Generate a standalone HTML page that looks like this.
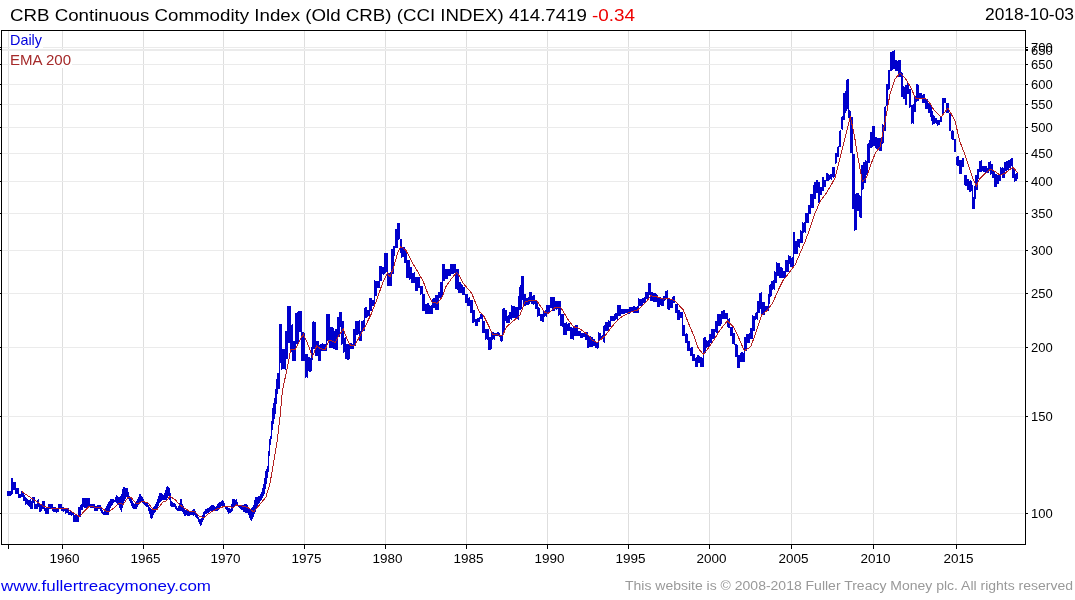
<!DOCTYPE html>
<html><head><meta charset="utf-8"><title>CRB</title><style>html,body{margin:0;padding:0;background:#fff;width:1075px;height:600px;overflow:hidden}</style></head><body>
<svg width="1075" height="600" viewBox="0 0 1075 600" style="display:block;will-change:transform">
<rect width="1075" height="600" fill="#fff"/>
<path d="M8.5 31V544 M62.5 31V544 M143.5 31V544 M223.5 31V544 M304.5 31V544 M385.5 31V544 M466.5 31V544 M547.5 31V544 M628.5 31V544 M709.5 31V544 M791.5 31V544 M873.5 31V544 M956.5 31V544" stroke="#dedede" stroke-width="1" fill="none"/>
<path d="M2 513.5H1024 M2 416.5H1024 M2 347.5H1024 M2 293.5H1024 M2 250.5H1024 M2 213.5H1024 M2 181.5H1024 M2 153.5H1024 M2 127.5H1024 M2 104.5H1024 M2 84.5H1024 M2 64.5H1024 M2 47.5H1024 M2 49.5H1024M2 50.5H1024" stroke="#ebebeb" stroke-width="1" fill="none"/>
<rect x="10" y="31" width="33" height="17" fill="#fff"/>
<rect x="10" y="51" width="62" height="17" fill="#fff"/>
<polygon points="7,491 11,491 11,478 13,478 13,482 16,482 16,488 19,488 19,494 21,494 21,491 22,491 22,492 24,492 24,495 25,495 25,497 26,497 26,498 27,498 27,499 28,499 28,500 30,500 30,499 31,499 31,501 32,501 32,497 35,497 35,504 37,504 37,500 38,500 38,499 39,499 39,503 40,503 40,505 42,505 42,501 45,501 45,508 48,508 48,504 53,504 53,507 56,507 56,509 58,509 58,504 62,504 62,507 64,507 64,508 69,508 69,512 70,512 70,511 71,511 71,512 74,512 74,515 78,515 78,507 80,507 80,505 81,505 81,504 82,504 82,498 90,498 90,504 95,504 95,506 97,506 97,505 101,505 101,508 102,508 102,510 103,510 103,512 104,512 104,510 105,510 105,508 106,508 106,506 107,506 107,504 108,504 108,502 109,502 109,501 110,501 110,499 114,499 114,500 115,500 115,497 116,497 116,495 117,495 117,496 118,496 118,497 120,497 120,496 121,496 121,494 122,494 122,489 123,489 123,487 125,487 125,488 128,488 128,492 129,492 129,496 130,496 130,498 131,498 131,499 132,499 132,501 133,501 133,503 134,503 134,504 135,504 135,503 136,503 136,501 137,501 137,499 138,499 138,497 139,497 139,494 141,494 141,496 142,496 142,497 143,497 143,499 144,499 144,502 146,502 146,503 148,503 148,505 149,505 149,507 150,507 150,508 151,508 151,509 152,509 152,508 153,508 153,507 154,507 154,506 155,506 155,504 156,504 156,502 157,502 157,499 158,499 158,496 159,496 159,493 162,493 162,494 163,494 163,495 164,495 164,493 165,493 165,490 166,490 166,487 167,487 167,486 168,486 168,487 169,487 169,488 170,488 170,493 171,493 171,501 172,501 172,502 173,502 173,503 175,503 175,504 176,504 176,506 177,506 177,508 178,508 178,506 179,506 179,503 180,503 180,499 182,499 182,504 183,504 183,506 184,506 184,509 185,509 185,510 187,510 187,511 189,511 189,512 191,512 191,511 192,511 192,510 193,510 193,509 195,509 195,511 196,511 196,514 197,514 197,515 198,515 198,517 199,517 199,519 201,519 201,518 202,518 202,515 203,515 203,512 204,512 204,511 205,511 205,509 207,509 207,508 209,508 209,507 210,507 210,506 211,506 211,505 214,505 214,506 215,506 215,507 216,507 216,506 217,506 217,504 218,504 218,503 219,503 219,502 221,502 221,501 222,501 222,500 223,500 223,501 224,501 224,503 225,503 225,506 227,506 227,507 228,507 228,508 230,508 230,509 231,509 231,504 232,504 232,499 235,499 235,500 236,500 236,499 237,499 237,502 238,502 238,505 244,505 244,504 247,504 247,505 248,505 248,507 249,507 249,508 250,508 250,510 251,510 251,508 252,508 252,507 253,507 253,505 254,505 254,500 255,500 255,497 258,497 258,496 260,496 260,494 261,494 261,492 262,492 262,488 263,488 263,484 264,484 264,478 265,478 265,471 266,471 266,469 267,469 267,466 268,466 268,451 269,451 269,439 270,439 270,436 271,436 271,421 272,421 272,408 273,408 273,403 274,403 274,398 275,398 275,389 276,389 276,379 277,379 277,373 279,373 279,324 282,324 282,349 285,349 285,331 287,331 287,306 291,306 291,325 292,325 292,324 293,324 293,341 295,341 295,313 297,313 297,312 298,312 298,311 302,311 302,332 304,332 304,333 305,333 305,354 308,354 308,357 310,357 310,358 311,358 311,347 312,347 312,322 313,322 313,321 314,321 314,322 316,322 316,341 319,341 319,345 320,345 320,344 322,344 322,343 323,343 323,344 326,344 326,314 330,314 330,327 333,327 333,328 334,328 334,331 335,331 335,329 337,329 337,317 339,317 339,312 342,312 342,321 344,321 344,338 345,338 345,337 346,337 346,344 350,344 350,343 352,343 352,344 353,344 353,329 355,329 355,321 359,321 359,320 360,320 360,331 361,331 361,321 363,321 363,320 364,320 364,308 365,308 365,307 367,307 367,310 369,310 369,298 372,298 372,300 374,300 374,280 375,280 375,281 379,281 379,266 382,266 382,267 384,267 384,253 388,253 388,273 390,273 390,272 391,272 391,249 393,249 393,246 395,246 395,229 397,229 397,223 400,223 400,239 402,239 402,247 405,247 405,250 407,250 407,260 410,260 410,267 412,267 412,273 414,273 414,272 415,272 415,277 420,277 420,286 423,286 423,294 425,294 425,304 427,304 427,303 429,303 429,305 430,305 430,306 431,306 431,305 432,305 432,299 433,299 433,298 435,298 435,295 438,295 438,292 440,292 440,282 442,282 442,264 445,264 445,269 450,269 450,264 456,264 456,269 459,269 459,282 461,282 461,284 462,284 462,285 463,285 463,287 465,287 465,294 468,294 468,298 469,298 469,297 470,297 470,300 473,300 473,310 475,310 475,319 477,319 477,318 479,318 479,317 480,317 480,314 483,314 483,321 485,321 485,329 489,329 489,337 491,337 491,332 494,332 494,333 497,333 497,332 499,332 499,333 500,333 500,336 502,336 502,309 503,309 503,308 505,308 505,310 507,310 507,316 508,316 508,315 509,315 509,312 511,312 511,305 512,305 512,306 515,306 515,307 518,307 518,296 519,296 519,287 520,287 520,285 521,285 521,276 524,276 524,294 526,294 526,298 528,298 528,297 529,297 529,292 532,292 532,296 533,296 533,295 535,295 535,301 538,301 538,307 539,307 539,308 540,308 540,314 543,314 543,311 545,311 545,310 546,310 546,305 550,305 550,297 555,297 555,301 561,301 561,314 564,314 564,323 566,323 566,322 567,322 567,324 568,324 568,323 570,323 570,327 572,327 572,328 573,328 573,326 575,326 575,325 578,325 578,331 581,331 581,333 586,333 586,332 588,332 588,335 589,335 589,336 591,336 591,337 593,337 593,339 595,339 595,342 598,342 598,332 599,332 599,333 601,333 601,336 602,336 602,335 603,335 603,326 604,326 604,325 605,325 605,322 608,322 608,320 609,320 609,321 610,321 610,316 614,316 614,314 615,314 615,313 617,313 617,305 621,305 621,309 629,309 629,307 633,307 633,306 635,306 635,307 637,307 637,306 638,306 638,298 639,298 639,299 642,299 642,298 644,298 644,297 645,297 645,292 648,292 648,283 651,283 651,292 653,292 653,293 656,293 656,294 657,294 657,295 658,295 658,298 660,298 660,297 661,297 661,298 663,298 663,296 665,296 665,291 667,291 667,290 668,290 668,299 670,299 670,300 672,300 672,297 673,297 673,296 675,296 675,304 678,304 678,310 680,310 680,312 683,312 683,325 685,325 685,334 686,334 686,333 687,333 687,334 688,334 688,341 690,341 690,348 691,348 691,347 693,347 693,354 695,354 695,358 696,358 696,357 697,357 697,355 699,355 699,356 700,356 700,357 702,357 702,358 703,358 703,338 704,338 704,337 706,337 706,340 707,340 707,341 708,341 708,340 709,340 709,334 711,334 711,329 715,329 715,321 717,321 717,314 721,314 721,311 723,311 723,310 725,310 725,313 728,313 728,319 729,319 729,318 730,318 730,327 733,327 733,333 735,333 735,344 737,344 737,345 738,345 738,355 740,355 740,353 741,353 741,352 743,352 743,353 744,353 744,337 746,337 746,334 749,334 749,333 750,333 750,328 752,328 752,315 753,315 753,316 755,316 755,313 756,313 756,312 757,312 757,301 759,301 759,293 761,293 761,292 762,292 762,302 765,302 765,306 768,306 768,294 769,294 769,285 770,285 770,284 771,284 771,281 773,281 773,280 774,280 774,271 775,271 775,272 776,272 776,262 777,262 777,263 780,263 780,267 782,267 782,268 783,268 783,271 785,271 785,260 788,260 788,255 789,255 789,256 791,256 791,258 792,258 792,257 793,257 793,232 795,232 795,241 797,241 797,239 800,239 800,230 801,230 801,231 802,231 802,222 803,222 803,223 804,223 804,222 805,222 805,213 808,213 808,205 810,205 810,194 813,194 813,185 814,185 814,182 816,182 816,180 818,180 818,182 820,182 820,187 822,187 822,177 824,177 824,180 826,180 826,173 828,173 828,174 829,174 829,175 830,175 830,174 832,174 832,167 835,167 835,153 837,153 837,147 838,147 838,146 839,146 839,131 840,131 840,130 841,130 841,117 842,117 842,116 843,116 843,93 845,93 845,91 846,91 846,80 847,80 847,79 849,79 849,110 850,110 850,111 851,111 851,117 853,117 853,154 855,154 855,194 856,194 856,193 859,193 859,195 860,195 860,196 861,196 861,165 863,165 863,162 865,162 865,160 866,160 866,161 867,161 867,144 868,144 868,143 869,143 869,140 870,140 870,132 872,132 872,126 875,126 875,137 877,137 877,138 882,138 882,124 883,124 883,125 884,125 884,107 885,107 885,106 886,106 886,84 888,84 888,70 890,70 890,52 892,52 892,51 894,51 894,50 895,50 895,60 897,60 897,61 898,61 898,60 901,60 901,72 902,72 902,73 903,73 903,86 904,86 904,87 905,87 905,85 907,85 907,83 909,83 909,89 911,89 911,105 913,105 913,104 914,104 914,96 916,96 916,84 918,84 918,85 919,85 919,93 922,93 922,95 923,95 923,94 925,94 925,98 926,98 926,99 928,99 928,103 929,103 929,102 930,102 930,103 931,103 931,107 932,107 932,111 933,111 933,115 934,115 934,116 935,116 935,118 937,118 937,120 940,120 940,116 942,116 942,98 946,98 946,103 949,103 949,113 951,113 951,131 952,131 952,130 953,130 953,131 954,131 954,139 956,139 956,157 957,157 957,156 959,156 959,160 962,160 962,158 964,158 964,175 967,175 967,179 969,179 969,181 970,181 970,180 971,180 971,181 972,181 972,185 973,185 973,197 974,197 974,186 975,186 975,175 977,175 977,169 979,169 979,161 981,161 981,160 982,160 982,166 987,166 987,168 988,168 988,162 990,162 990,161 991,161 991,164 993,164 993,171 995,171 995,174 997,174 997,175 998,175 998,173 999,173 999,174 1000,174 1000,167 1001,167 1001,168 1002,168 1002,167 1003,167 1003,168 1004,168 1004,162 1006,162 1006,161 1008,161 1008,160 1010,160 1010,159 1011,159 1011,158 1013,158 1013,169 1015,169 1015,174 1016,174 1016,173 1018,173 1018,179 1017,179 1017,181 1015,181 1015,182 1014,182 1014,178 1012,178 1012,166 1011,166 1011,168 1009,168 1009,170 1007,170 1007,171 1005,171 1005,178 1002,178 1002,175 1001,175 1001,181 999,181 999,184 997,184 997,187 994,187 994,178 992,178 992,174 991,174 991,175 990,175 990,171 989,171 989,173 985,173 985,172 983,172 983,171 982,171 982,172 979,172 979,179 978,179 978,190 976,190 976,199 975,199 975,209 972,209 972,191 971,191 971,192 969,192 969,190 967,190 967,186 965,186 965,185 964,185 964,167 962,167 962,174 959,174 959,166 957,166 957,165 956,165 956,152 954,152 954,140 952,140 952,139 951,139 951,131 949,131 949,113 946,113 946,103 944,103 944,115 942,115 942,122 940,122 940,125 938,125 938,126 937,126 937,124 936,124 936,123 935,123 935,124 933,124 933,125 932,125 932,121 931,121 931,117 930,117 930,113 928,113 928,109 925,109 925,103 922,103 922,99 919,99 919,101 917,101 917,102 916,102 916,112 914,112 914,124 913,124 913,123 912,123 912,124 911,124 911,107 910,107 910,108 909,108 909,94 907,94 907,105 905,105 905,99 903,99 903,97 901,97 901,77 898,77 898,71 895,71 895,69 893,69 893,70 892,70 892,71 890,71 890,89 889,89 889,90 888,90 888,106 886,106 886,131 884,131 884,143 883,143 883,144 882,144 882,151 879,151 879,150 877,150 877,149 876,149 876,148 875,148 875,146 873,146 873,147 872,147 872,148 870,148 870,163 868,163 868,175 866,175 866,183 864,183 864,189 863,189 863,190 862,190 862,218 860,218 860,217 859,217 859,211 857,211 857,230 855,230 855,231 854,231 854,209 852,209 852,153 850,153 850,118 848,118 848,109 847,109 847,111 846,111 846,113 845,113 845,120 843,120 843,130 842,130 842,129 841,129 841,147 839,147 839,157 837,157 837,163 836,163 836,164 835,164 835,177 834,177 834,178 833,178 833,177 832,177 832,180 831,180 831,179 830,179 830,180 829,180 829,181 826,181 826,187 824,187 824,191 822,191 822,195 820,195 820,203 818,203 818,193 816,193 816,199 814,199 814,208 811,208 811,214 809,214 809,223 806,223 806,233 805,233 805,232 804,232 804,233 803,233 803,243 800,243 800,248 799,248 799,247 798,247 798,254 794,254 794,267 790,267 790,264 789,264 789,272 786,272 786,278 779,278 779,276 777,276 777,283 775,283 775,290 774,290 774,289 773,289 773,290 772,290 772,296 771,296 771,297 770,297 770,304 769,304 769,311 767,311 767,310 766,310 766,311 765,311 765,315 763,315 763,314 761,314 761,309 760,309 760,313 758,313 758,320 757,320 757,319 756,319 756,320 755,320 755,331 753,331 753,339 750,339 750,343 747,343 747,351 745,351 745,362 740,362 740,368 737,368 737,357 735,357 735,345 734,345 734,344 732,344 732,336 730,336 730,328 728,328 728,327 727,327 727,319 722,319 722,324 721,324 721,326 718,326 718,333 716,333 716,332 715,332 715,339 712,339 712,343 710,343 710,347 707,347 707,348 706,348 706,353 704,353 704,367 700,367 700,363 698,363 698,367 695,367 695,361 692,361 692,356 690,356 690,351 687,351 687,343 685,343 685,336 682,336 682,318 680,318 680,320 677,320 677,313 675,313 675,303 673,303 673,308 670,308 670,310 668,310 668,309 667,309 667,299 666,299 666,300 665,300 665,301 664,301 664,306 661,306 661,305 660,305 660,307 657,307 657,302 653,302 653,301 650,301 650,295 649,295 649,300 648,300 648,299 646,299 646,303 643,303 643,306 639,306 639,313 633,313 633,312 630,312 630,314 627,314 627,313 625,313 625,314 621,314 621,316 618,316 618,320 617,320 617,319 616,319 616,320 615,320 615,321 611,321 611,327 609,327 609,331 605,331 605,343 604,343 604,342 603,342 603,339 600,339 600,340 599,340 599,348 598,348 598,349 597,349 597,348 595,348 595,346 593,346 593,347 589,347 589,348 587,348 587,340 585,340 585,337 583,337 583,338 580,338 580,336 574,336 574,340 573,340 573,339 570,339 570,331 567,331 567,335 563,335 563,327 562,327 562,326 560,326 560,315 559,315 559,316 558,316 558,309 557,309 557,310 556,310 556,309 555,309 555,311 552,311 552,308 550,308 550,313 547,313 547,317 546,317 546,316 545,316 545,317 544,317 544,322 542,322 542,321 540,321 540,316 538,316 538,317 537,317 537,309 535,309 535,304 534,304 534,305 533,305 533,304 531,304 531,302 530,302 530,304 529,304 529,305 526,305 526,306 523,306 523,300 522,300 522,309 521,309 521,310 519,310 519,320 518,320 518,319 515,319 515,318 512,318 512,320 511,320 511,319 510,319 510,323 506,323 506,321 505,321 505,333 503,333 503,341 502,341 502,342 501,342 501,341 500,341 500,337 499,337 499,336 495,336 495,340 494,340 494,339 493,339 493,340 492,340 492,349 491,349 491,350 488,350 488,340 487,340 487,339 486,339 486,340 485,340 485,333 482,333 482,319 480,319 480,322 478,322 478,326 475,326 475,322 474,322 474,323 472,323 472,313 470,313 470,306 467,306 467,303 465,303 465,295 462,295 462,293 458,293 458,290 457,290 457,289 455,289 455,273 454,273 454,274 451,274 451,276 448,276 448,279 445,279 445,281 443,281 443,296 442,296 442,297 441,297 441,298 439,298 439,310 435,310 435,308 433,308 433,314 425,314 425,311 422,311 422,294 421,294 421,295 420,295 420,288 418,288 418,291 415,291 415,283 411,283 411,279 410,279 410,280 409,280 409,278 406,278 406,263 404,263 404,257 402,257 402,258 401,258 401,253 400,253 400,239 399,239 399,240 398,240 398,248 395,248 395,256 394,256 394,274 392,274 392,286 387,286 387,272 386,272 386,273 385,273 385,274 384,274 384,275 383,275 383,274 382,274 382,281 380,281 380,288 377,288 377,296 375,296 375,306 372,306 372,311 370,311 370,316 368,316 368,317 367,317 367,318 365,318 365,331 362,331 362,341 359,341 359,334 358,334 358,335 356,335 356,346 354,346 354,349 350,349 350,359 349,359 349,360 347,360 347,359 345,359 345,352 344,352 344,353 343,353 343,344 342,344 342,345 341,345 341,327 340,327 340,337 338,337 338,350 335,350 335,349 333,349 333,348 329,348 329,341 327,341 327,351 321,351 321,361 318,361 318,356 315,356 315,349 313,349 313,360 312,360 312,371 311,371 311,372 309,372 309,371 308,371 308,378 307,378 307,377 306,377 306,378 305,378 305,361 301,361 301,332 299,332 299,344 296,344 296,361 292,361 292,352 291,352 291,353 290,353 290,343 288,343 288,359 286,359 286,370 285,370 285,369 282,369 282,370 281,370 281,363 280,363 280,389 278,389 278,394 277,394 277,404 276,404 276,414 275,414 275,419 274,419 274,424 273,424 273,430 272,430 272,439 271,439 271,445 270,445 270,456 269,456 269,472 268,472 268,478 267,478 267,484 266,484 266,489 265,489 265,494 264,494 264,496 263,496 263,498 262,498 262,500 261,500 261,501 260,501 260,503 259,503 259,504 258,504 258,506 257,506 257,508 256,508 256,512 255,512 255,514 254,514 254,517 253,517 253,519 252,519 252,521 251,521 251,520 250,520 250,518 249,518 249,515 248,515 248,513 245,513 245,512 243,512 243,510 241,510 241,509 240,509 240,508 239,508 239,507 238,507 238,506 234,506 234,508 233,508 233,511 232,511 232,512 231,512 231,513 229,513 229,514 228,514 228,512 227,512 227,510 226,510 226,509 225,509 225,507 224,507 224,506 221,506 221,508 220,508 220,509 219,509 219,510 218,510 218,511 210,511 210,512 209,512 209,513 207,513 207,514 205,514 205,517 204,517 204,520 203,520 203,522 202,522 202,525 201,525 201,526 200,526 200,524 199,524 199,522 198,522 198,519 197,519 197,518 196,518 196,517 195,517 195,515 194,515 194,516 193,516 193,515 190,515 190,516 187,516 187,515 186,515 186,516 184,516 184,514 183,514 183,512 182,512 182,511 177,511 177,510 176,510 176,509 175,509 175,507 171,507 171,506 170,506 170,500 169,500 169,496 168,496 168,498 167,498 167,500 162,500 162,501 161,501 161,502 160,502 160,503 159,503 159,506 158,506 158,509 157,509 157,510 156,510 156,512 155,512 155,513 154,513 154,515 153,515 153,518 152,518 152,519 151,519 151,518 150,518 150,514 149,514 149,511 148,511 148,507 146,507 146,506 145,506 145,505 144,505 144,504 143,504 143,503 142,503 142,502 141,502 141,503 139,503 139,505 138,505 138,507 137,507 137,509 133,509 133,508 132,508 132,506 131,506 131,503 130,503 130,501 129,501 129,499 128,499 128,497 126,497 126,499 125,499 125,501 124,501 124,503 123,503 123,508 122,508 122,512 121,512 121,510 120,510 120,508 119,508 119,505 118,505 118,504 117,504 117,503 116,503 116,502 114,502 114,503 113,503 113,505 112,505 112,506 111,506 111,508 110,508 110,511 109,511 109,515 103,515 103,514 102,514 102,513 101,513 101,511 100,511 100,509 98,509 98,511 94,511 94,508 90,508 90,507 88,507 88,508 84,508 84,507 83,507 83,510 81,510 81,517 79,517 79,522 73,522 73,515 72,515 72,516 71,516 71,515 68,515 68,513 66,513 66,514 65,514 65,511 64,511 64,512 63,512 63,511 61,511 61,509 60,509 60,508 59,508 59,512 57,512 57,513 56,513 56,512 53,512 53,511 52,511 52,509 49,509 49,514 45,514 45,511 44,511 44,509 42,509 42,511 41,511 41,512 39,512 39,507 38,507 38,509 34,509 34,503 33,503 33,509 30,509 30,507 29,507 29,506 28,506 28,505 27,505 27,504 26,504 26,505 25,505 25,501 23,501 23,497 21,497 21,498 18,498 18,494 15,494 15,490 13,490 13,494 12,494 12,495 11,495 11,496 7,496" fill="#0000cc" shape-rendering="crispEdges"/>
<polyline points="21.6,491.5 30.3,497.3 43.2,506 47.8,507.8 57,508.5 67.7,509 79.3,516.6 88.7,506.7 94,507 95,507 101,507.5 106,511 110,511 115,507 119,503 123,504.5 128,497.5 131,497.5 136,503 139,503.5 142,501 148,503 153,509.5 157,509.5 163,502 166,501 170,496.5 175,499.5 180,505 185,508.5 189,511 190,511.3 194.7,511.9 199.3,516 204,517.7 208.7,513.6 214.5,510.1 220.3,507.8 225,506.1 229.7,506.6 233.1,507.8 236.6,504.9 242.5,506.1 248.3,507.8 253.6,511.9 260,504.3 265.8,497.3 270,483.3 273.2,465 277,442.5 280,417 282.2,393 283.3,386.7 287.5,366.7 290.8,349.2 295,350 299.2,341.7 303.3,334.2 307.5,343.3 312.5,356.7 316.7,345.8 320,348.3 325,350 329.2,340 333.3,341.7 335,342.5 339.2,335 343.3,329.2 347.5,340 350.8,345.8 355,345 360,335.8 365,326.7 370.8,315 376.7,300 382.5,283.3 387.5,273.3 390,276.7 393.3,268.3 397.5,253.3 400.8,246.7 405.8,250 411.7,261.7 419.2,274.2 423.3,281.7 428.3,295 432.5,302.5 437.5,303.3 442.5,296.7 445.8,286.7 451.7,278.3 456.7,272.5 458.3,274.2 463.3,283.3 471.7,293.3 479.2,311.7 483.3,315 488.3,325 492.5,334.2 502.5,335.8 506.7,326.7 512.5,321.7 518.3,316.7 520,315 525,301.7 531.7,300 536.7,300.8 545,312.5 548.3,313.3 555,307.5 560.8,307.5 568.3,320 573.3,326.7 579.2,328.3 585,332.5 590,336.7 591.7,340 597.5,342.5 605,335.8 613.3,325 620.8,317.5 629.2,312.5 637.5,310 645,303.3 650.8,295.8 655,296.7 656.7,296.7 663.3,299.2 668.3,298.3 675,300.8 683.3,310 689.2,325 694.2,336.7 698.3,348.3 703.3,354.2 708.3,348.3 715,338.3 720,330 727.5,320.8 733.3,326.7 738.3,336.7 744.2,350.8 750.8,346.7 756.7,330 761.7,315 766.7,310.8 772.5,303.3 778.3,290 783.3,280 785,278.3 795,265 800,253.3 805,241.7 810,228.3 815,213.3 820,201.7 825,195 830,187 835,178 841,154 846,134 850.4,116.5 854.8,138.2 858,157.7 862.3,181.5 866.7,177.2 871,164.2 875.3,153.3 880.1,146.8 885,122 890,94 895,79 900,73 905,78 910,86 916,99 922,98 925,98 929,102 934,110 941,117 948,108 955,121 960,142 965,154.7 969,166.7 973,178.7 976.3,186 979.7,178.7 983.7,174.7 990.3,169.3 995.7,172 1000.3,175.3 1005,173.3 1009,170 1013,167.3 1017.7,172.7" fill="none" stroke="#b22222" stroke-width="1" shape-rendering="crispEdges"/>
<rect x="1.5" y="30.5" width="1024" height="514" fill="none" stroke="#000" stroke-width="1"/>
<path d="M8.5 545V549 M62.5 545V549 M143.5 545V549 M223.5 545V549 M304.5 545V549 M385.5 545V549 M466.5 545V549 M547.5 545V549 M628.5 545V549 M709.5 545V549 M791.5 545V549 M873.5 545V549 M956.5 545V549 M1026 513.5H1028 M-1 513.5H1 M1026 416.5H1028 M-1 416.5H1 M1026 347.5H1028 M-1 347.5H1 M1026 293.5H1028 M-1 293.5H1 M1026 250.5H1028 M-1 250.5H1 M1026 213.5H1028 M-1 213.5H1 M1026 181.5H1028 M-1 181.5H1 M1026 153.5H1028 M-1 153.5H1 M1026 127.5H1028 M-1 127.5H1 M1026 104.5H1028 M-1 104.5H1 M1026 84.5H1028 M-1 84.5H1 M1026 64.5H1028 M-1 64.5H1 M1026 47.5H1028 M-1 47.5H1 M1026 49.5H1028M1026 50.5H1028 M-1 49.5H1" stroke="#000" stroke-width="1" fill="none"/>
<text x="64.5" y="563" font-family='"Liberation Sans", sans-serif' font-size="13" textLength="30" lengthAdjust="spacingAndGlyphs" text-anchor="middle" fill="#000">1960</text>
<text x="145.5" y="563" font-family='"Liberation Sans", sans-serif' font-size="13" textLength="30" lengthAdjust="spacingAndGlyphs" text-anchor="middle" fill="#000">1965</text>
<text x="225.5" y="563" font-family='"Liberation Sans", sans-serif' font-size="13" textLength="30" lengthAdjust="spacingAndGlyphs" text-anchor="middle" fill="#000">1970</text>
<text x="306.5" y="563" font-family='"Liberation Sans", sans-serif' font-size="13" textLength="30" lengthAdjust="spacingAndGlyphs" text-anchor="middle" fill="#000">1975</text>
<text x="387.5" y="563" font-family='"Liberation Sans", sans-serif' font-size="13" textLength="30" lengthAdjust="spacingAndGlyphs" text-anchor="middle" fill="#000">1980</text>
<text x="468.5" y="563" font-family='"Liberation Sans", sans-serif' font-size="13" textLength="30" lengthAdjust="spacingAndGlyphs" text-anchor="middle" fill="#000">1985</text>
<text x="549.5" y="563" font-family='"Liberation Sans", sans-serif' font-size="13" textLength="30" lengthAdjust="spacingAndGlyphs" text-anchor="middle" fill="#000">1990</text>
<text x="630.5" y="563" font-family='"Liberation Sans", sans-serif' font-size="13" textLength="30" lengthAdjust="spacingAndGlyphs" text-anchor="middle" fill="#000">1995</text>
<text x="711.5" y="563" font-family='"Liberation Sans", sans-serif' font-size="13" textLength="30" lengthAdjust="spacingAndGlyphs" text-anchor="middle" fill="#000">2000</text>
<text x="793.5" y="563" font-family='"Liberation Sans", sans-serif' font-size="13" textLength="30" lengthAdjust="spacingAndGlyphs" text-anchor="middle" fill="#000">2005</text>
<text x="875.5" y="563" font-family='"Liberation Sans", sans-serif' font-size="13" textLength="30" lengthAdjust="spacingAndGlyphs" text-anchor="middle" fill="#000">2010</text>
<text x="958.5" y="563" font-family='"Liberation Sans", sans-serif' font-size="13" textLength="30" lengthAdjust="spacingAndGlyphs" text-anchor="middle" fill="#000">2015</text>
<text x="1031" y="518" font-family='"Liberation Sans", sans-serif' font-size="13" fill="#000">100</text>
<text x="1031" y="421" font-family='"Liberation Sans", sans-serif' font-size="13" fill="#000">150</text>
<text x="1031" y="352" font-family='"Liberation Sans", sans-serif' font-size="13" fill="#000">200</text>
<text x="1031" y="298" font-family='"Liberation Sans", sans-serif' font-size="13" fill="#000">250</text>
<text x="1031" y="255" font-family='"Liberation Sans", sans-serif' font-size="13" fill="#000">300</text>
<text x="1031" y="218" font-family='"Liberation Sans", sans-serif' font-size="13" fill="#000">350</text>
<text x="1031" y="186" font-family='"Liberation Sans", sans-serif' font-size="13" fill="#000">400</text>
<text x="1031" y="158" font-family='"Liberation Sans", sans-serif' font-size="13" fill="#000">450</text>
<text x="1031" y="132" font-family='"Liberation Sans", sans-serif' font-size="13" fill="#000">500</text>
<text x="1031" y="109" font-family='"Liberation Sans", sans-serif' font-size="13" fill="#000">550</text>
<text x="1031" y="89" font-family='"Liberation Sans", sans-serif' font-size="13" fill="#000">600</text>
<text x="1031" y="69" font-family='"Liberation Sans", sans-serif' font-size="13" fill="#000">650</text>
<text x="1031" y="52" font-family='"Liberation Sans", sans-serif' font-size="13" fill="#000">700</text>
<text x="1031" y="54.5" font-family='"Liberation Sans", sans-serif' font-size="13" fill="#000">650 </text>
<text x="10" y="45" font-family='"Liberation Sans", sans-serif' font-size="14.2" textLength="32" lengthAdjust="spacingAndGlyphs" fill="#0000dd">Daily</text>
<text x="10" y="65.2" font-family='"Liberation Sans", sans-serif' font-size="14.2" textLength="61" lengthAdjust="spacingAndGlyphs" fill="#a52a2a">EMA 200</text>
<text x="10" y="20.8" font-family='"Liberation Sans", sans-serif' font-size="16.8" textLength="577" lengthAdjust="spacingAndGlyphs" fill="#000">CRB Continuous Commodity Index (Old CRB) (CCI INDEX) 414.7419</text>
<text x="592" y="20.8" font-family='"Liberation Sans", sans-serif' font-size="16.8" textLength="43" lengthAdjust="spacingAndGlyphs" fill="#e00">-0.34</text>
<text x="985" y="20.3" font-family='"Liberation Sans", sans-serif' font-size="16.3" textLength="89" lengthAdjust="spacingAndGlyphs" fill="#000">2018-10-03</text>
<text x="1" y="590.6" font-family='"Liberation Sans", sans-serif' font-size="15.5" textLength="210" lengthAdjust="spacingAndGlyphs" fill="#0000ee">www.fullertreacymoney.com</text>
<text x="625" y="590" font-family='"Liberation Sans", sans-serif' font-size="13.6" textLength="448" lengthAdjust="spacingAndGlyphs" fill="#999">This website is © 2008-2018 Fuller Treacy Money plc. All rights reserved</text>
</svg>
</body></html>
